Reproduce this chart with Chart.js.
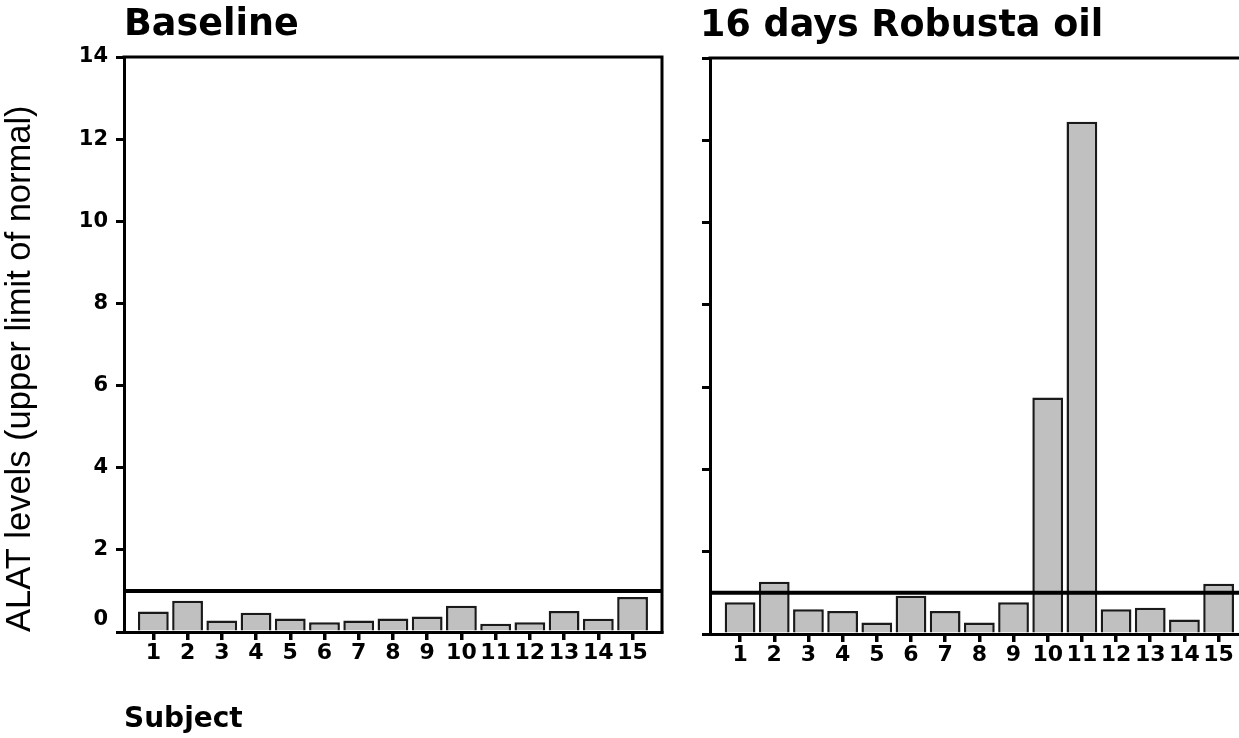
<!DOCTYPE html>
<html><head><meta charset="utf-8">
<script src="https://cdn.jsdelivr.net/npm/chart.js@4.4.1/dist/chart.umd.min.js"></script>
<style>
html,body{margin:0;padding:0;background:#fff;overflow:hidden;width:1239px;height:738px;position:relative;}
#w1{position:absolute;left:0;top:0;width:680px;height:738px;}
#w2{position:absolute;left:700px;top:1px;width:548px;height:738px;}
</style></head><body>
<div id="w1"><canvas id="c1"></canvas></div>
<div id="w2"><canvas id="c2"></canvas></div>
<script>
const subjects = [1,2,3,4,5,6,7,8,9,10,11,12,13,14,15];
const baselineValues = [0.50,0.76,0.28,0.47,0.33,0.24,0.28,0.33,0.38,0.64,0.20,0.24,0.51,0.32,0.85];
const robustaValues  = [0.77,1.27,0.60,0.56,0.28,0.93,0.56,0.28,0.77,5.75,12.45,0.60,0.64,0.35,1.22];
const yTickValues = [0,2,4,6,8,10,12,14];
const upperLimitNormal = 1;
const panelTitles = ['Baseline','16 days Robusta oil'];
const yAxisTitle = 'ALAT levels (upper limit of normal)';
const xAxisTitle = 'Subject';

const framePlugin = {
  id:'frame',
  afterDatasetsDraw(chart){
    const {ctx, chartArea:a} = chart;
    ctx.save();
    ctx.strokeStyle = '#000';
    ctx.lineWidth = 3;
    ctx.beginPath();
    ctx.moveTo(a.left - 1.5, a.top);
    ctx.lineTo(a.right, a.top);
    ctx.lineTo(a.right, a.bottom + 1.5);
    ctx.stroke();
    ctx.restore();
  }
};

function makeChart(id, cfg){
  const data = subjects.map((s,i)=>({x:s, y:cfg.values[i]}));
  return new Chart(document.getElementById(id), {
    type:'bar',
    data:{
      datasets:[
        {type:'line', data:[{x:cfg.xMin,y:upperLimitNormal},{x:cfg.xMax,y:upperLimitNormal}],
         borderColor:'#000', borderWidth:4, pointRadius:0, order:0},
        {type:'bar', data:data, backgroundColor:'#c0c0c0', borderColor:'#1a1a1a', borderWidth:2.5,
         barPercentage:0.9, categoryPercentage:1.0, order:1}
      ]
    },
    options:{
      responsive:true, maintainAspectRatio:false, animation:false,
      layout:{padding:{left:0,right:cfg.padRight,top:0,bottom:0}},
      plugins:{
        legend:{display:false}, tooltip:{enabled:false},
        title:{display:true, text:cfg.title, align:'start', fullSize:cfg.titleFull,
          color:'#000', font:{family:'DejaVu Sans', weight:'bold', size:36.5},
          padding:{top:4,bottom:9.2}}
      },
      scales:{
        x:{type:'linear', min:cfg.xMin, max:cfg.xMax, offset:false,
          afterBuildTicks:(s)=>{s.ticks = subjects.map(v=>({value:v}));},
          afterFit:(s)=>{s.height = cfg.xHeight;},
          grid:{display:true, drawOnChartArea:false, drawTicks:true, tickLength:8, color:'#000', lineWidth:3.5, offset:false},
          border:{display:true, color:'#000', width:3, z:1},
          ticks:{autoSkip:false, maxRotation:0, padding:0, color:'#000',
            font:{family:'DejaVu Sans', weight:'bold', size:22},
            callback:(v)=>String(v)},
          title:{display:cfg.showXTitle, text:xAxisTitle, align:'start', color:'#000',
            font:{family:'DejaVu Sans', weight:'bold', size:28}, padding:{top:0,bottom:1}}
        },
        y:{type:'linear', min:0, max:14,
          afterBuildTicks:(s)=>{s.ticks = yTickValues.map(v=>({value:v}));},
          afterFit:(s)=>{s.width = cfg.yWidth;},
          grid:{display:true, drawOnChartArea:false, drawTicks:true, tickLength:8, color:'#000', lineWidth:3},
          border:{display:true, color:'#000', width:3, z:1},
          ticks:{display:cfg.showYTicks, padding:8, color:'#000',
            font:{family:'DejaVu Sans', weight:'bold', size:21},
            callback:(v)=> v===0 ? ['0',''] : String(v)},
          title:{display:cfg.showYTitle, text:yAxisTitle, align:'start', color:'#000',
            font:{family:'Liberation Sans', weight:'normal', size:34.5}, padding:{top:0,bottom:0}}
        }
      }
    },
    plugins:[framePlugin]
  });
}

makeChart('c1', {values:baselineValues, title:panelTitles[0], xMin:0.143, xMax:15.86, padRight:18,
  xHeight:106, yWidth:124, titleFull:false, showXTitle:true, showYTitle:true, showYTicks:true});
makeChart('c2', {values:robustaValues, title:panelTitles[1], xMin:0.12, xMax:15.86, padRight:0,
  xHeight:105, yWidth:10, titleFull:true, showXTitle:false, showYTitle:false, showYTicks:false});
</script>
</body></html>
